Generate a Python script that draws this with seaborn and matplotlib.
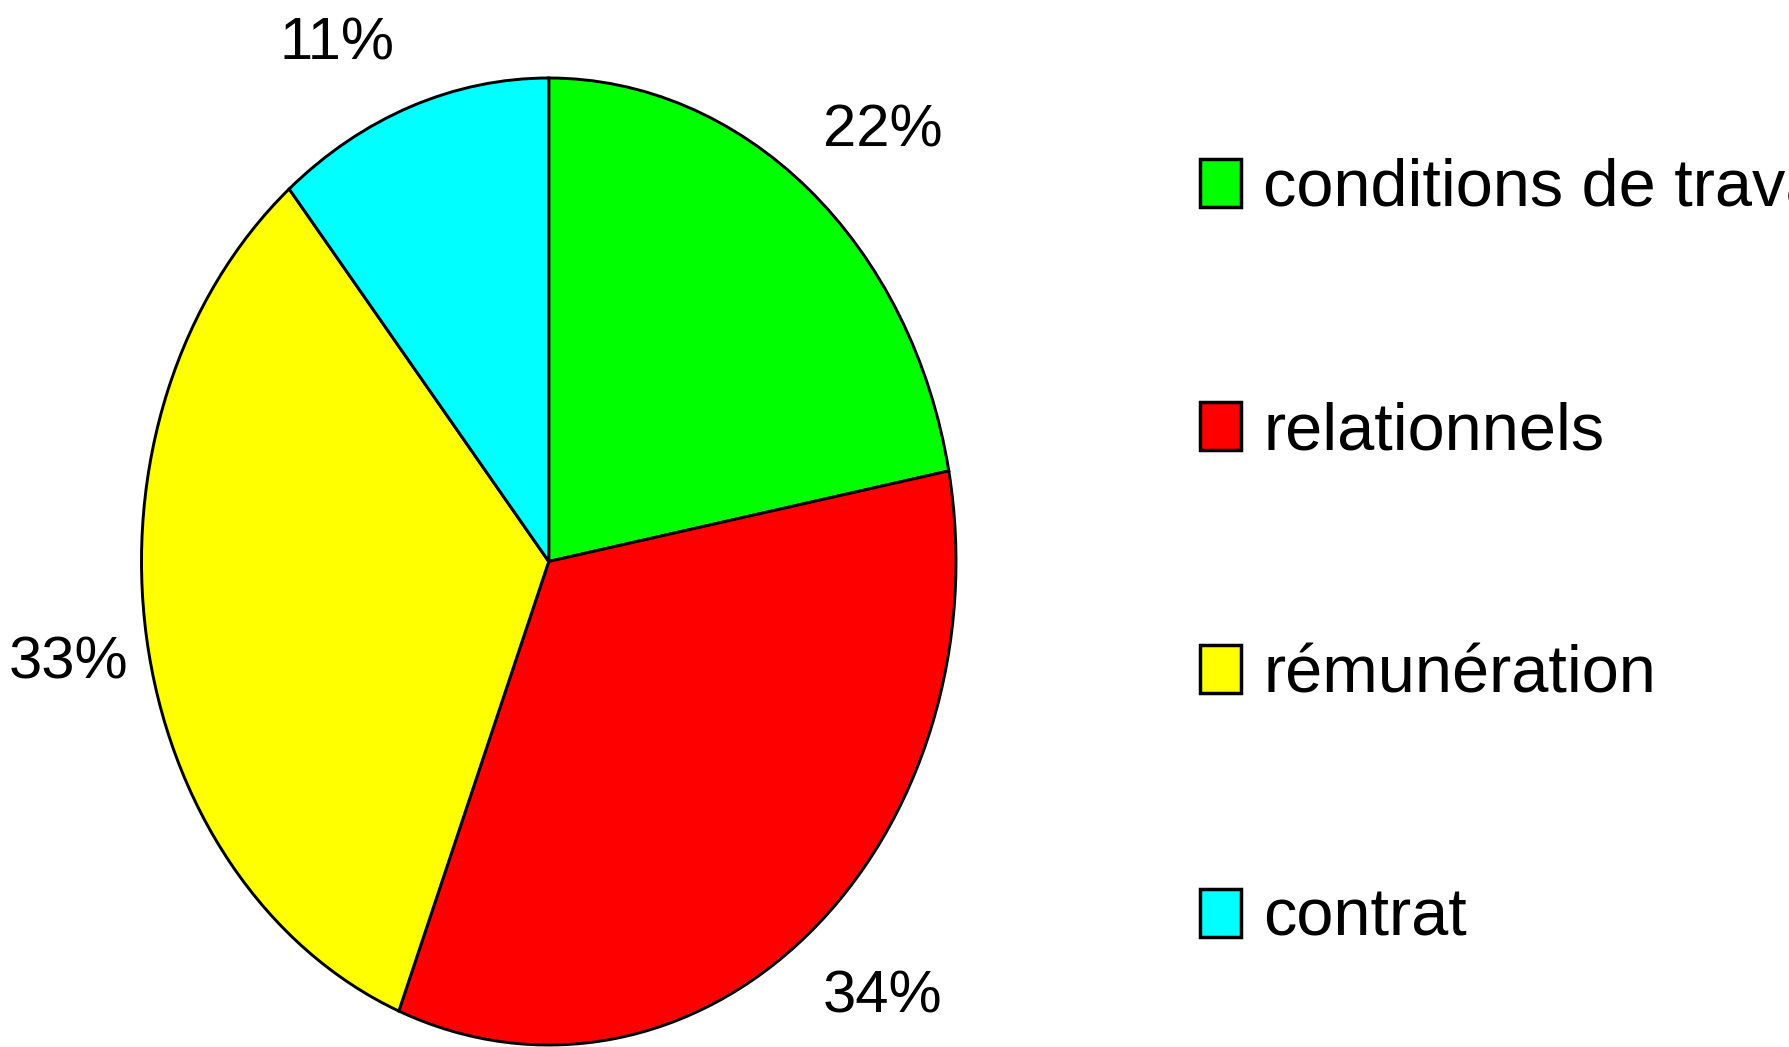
import matplotlib
matplotlib.use('Agg')
import matplotlib.pyplot as plt
import seaborn as sns

categories = ['conditions de travail', 'relationnels', 'rémunération', 'contrat']
parts = [22, 34, 33, 11]
couleurs = ['#00FF00', '#FF0000', '#FFFF00', '#00FFFF']

sns.set_theme(style='white')
plt.rcParams['font.family'] = ['Liberation Sans Narrow', 'Liberation Sans', 'DejaVu Sans']
plt.rcParams['text.color'] = 'black'

fig = plt.figure(figsize=(17.89, 10.47), dpi=100)
ax = fig.add_axes([141.5 / 1789, 2 / 1047, 814.5 / 1789, 967 / 1047])

wedges, _, autotexts = ax.pie(
    parts, colors=couleurs, startangle=90, counterclock=False,
    autopct='%1.0f%%', pctdistance=1.22,
    wedgeprops=dict(edgecolor='black', linewidth=2.1),
    textprops=dict(fontsize=43, color='black'),
)
ax.set_aspect('auto')
ax.set_xlim(-1, 1)
ax.set_ylim(-1, 1)
for w in wedges:
    w.set_clip_on(False)

# placement des pourcentages comme sur l'original
places = [(0.82, 0.89), (0.82, -0.90), (-1.18, -0.21), (-0.52, 1.07)]
for t, p in zip(autotexts, places):
    t.set_position(p)

leg = fig.legend(
    wedges, categories, loc='upper left',
    bbox_to_anchor=(1200 / 1789, 1 - 158 / 1047),
    frameon=False, fontsize=48, borderpad=0, borderaxespad=0,
    handlelength=0.62, handleheight=0.73, handletextpad=0.33,
    labelspacing=2.72,
)
for h in leg.legend_handles:
    h.set_linewidth(2.5)
for t in leg.get_texts():
    t.set_color('black')

fig.savefig('out.png', dpi=100)
